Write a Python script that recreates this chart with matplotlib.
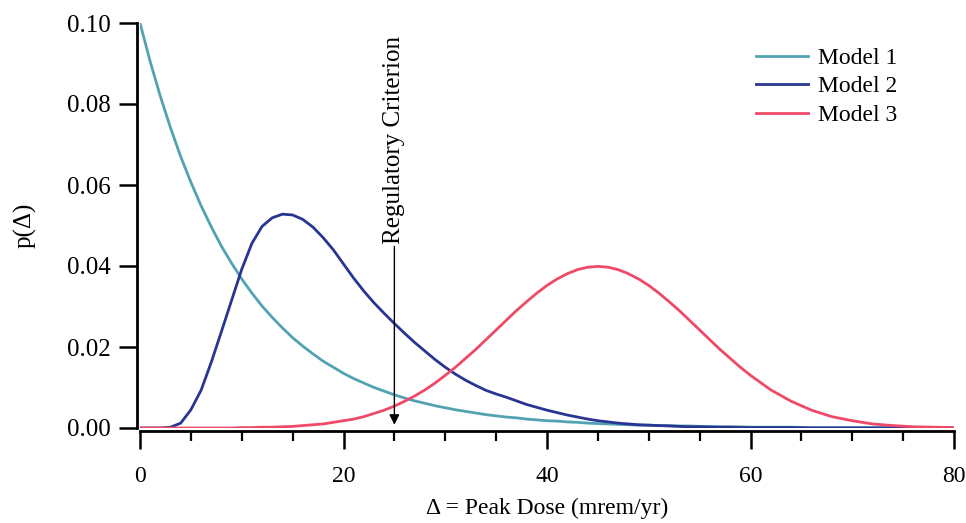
import numpy as np
import matplotlib
matplotlib.use("Agg")
import matplotlib.pyplot as plt
from matplotlib.ticker import MultipleLocator, FormatStrFormatter

plt.rcParams['font.family'] = ['Liberation Serif', 'DejaVu Serif']

# dose values (mrem/yr)
dose = list(range(0, 61)) + [62, 64, 66, 68, 70, 72, 74, 76, 78, 80]

model1 = [0.1000, 0.0905, 0.0819, 0.0741, 0.0670, 0.0607, 0.0549, 0.0497, 0.0449, 0.0407,
          0.0368, 0.0333, 0.0301, 0.0273, 0.0247, 0.0223, 0.0202, 0.0183, 0.0165, 0.0150,
          0.0135, 0.0122, 0.0111, 0.0100, 0.0091, 0.0082, 0.0074, 0.0067, 0.0061, 0.0055,
          0.0050, 0.0045, 0.0041, 0.0037, 0.0033, 0.0030, 0.0027, 0.0025, 0.0022, 0.0020,
          0.0018, 0.0017, 0.0015, 0.0014, 0.0012, 0.0011, 0.0010, 0.0009, 0.0008, 0.0007,
          0.0007, 0.0006, 0.0006, 0.0005, 0.0005, 0.0004, 0.0004, 0.0003, 0.0003, 0.0003,
          0.0002,
          0.0002, 0.0002, 0.0001, 0.0001, 0.0001, 0.0001, 0.0001, 0.0, 0.0, 0.0]

model2 = [0.0, 0.0, 0.0, 0.0002, 0.0012, 0.0045, 0.0093, 0.0162, 0.0238, 0.0315,
          0.0392, 0.0456, 0.0498, 0.0519, 0.0528, 0.0526, 0.0515, 0.0496, 0.0470, 0.0440,
          0.0405, 0.0370, 0.0338, 0.0309, 0.0283, 0.0258, 0.0234, 0.0211, 0.0190, 0.0169,
          0.0150, 0.0133, 0.0118, 0.0105, 0.0093, 0.0084, 0.0076, 0.0067, 0.0058, 0.0051,
          0.0044, 0.0038, 0.0032, 0.0027, 0.0022, 0.0018, 0.0015, 0.0012, 0.0010, 0.0008,
          0.0007, 0.0006, 0.0005, 0.0004, 0.0003, 0.0003, 0.0002, 0.0002, 0.0002, 0.0001,
          0.0001,
          0.0001, 0.0001, 0.0, 0.0, 0.0, 0.0, 0.0, 0.0, 0.0, 0.0]

model3 = [0.0, 0.0, 0.0, 0.0, 0.0, 0.0, 0.0, 0.0, 0.0, 0.0,
          0.0001, 0.0001, 0.0002, 0.0002, 0.0003, 0.0004, 0.0006, 0.0008, 0.0010, 0.0014,
          0.0018, 0.0022, 0.0028, 0.0036, 0.0044, 0.0054, 0.0066, 0.0079, 0.0094, 0.0111,
          0.0130, 0.0150, 0.0172, 0.0194, 0.0218, 0.0242, 0.0266, 0.0290, 0.0312, 0.0333,
          0.0352, 0.0368, 0.0381, 0.0391, 0.0397, 0.0399, 0.0397, 0.0391, 0.0381, 0.0368,
          0.0352, 0.0333, 0.0312, 0.0290, 0.0266, 0.0242, 0.0218, 0.0194, 0.0172, 0.0150,
          0.0130,
          0.0094, 0.0066, 0.0044, 0.0028, 0.0018, 0.0010, 0.0006, 0.0003, 0.0002, 0.0001]

criterion = 25

fig = plt.figure(figsize=(9.66, 5.23), dpi=100)
ax = fig.add_axes([140 / 966, 1 - 428 / 523, 814 / 966, 405 / 523])

ax.plot(dose, model1, color="#52a3b2", lw=2.0, label="Model 1")
ax.plot(dose, model2, color="#283592", lw=2.0, label="Model 2")
ax.plot(dose, model3, color="#ee4a68", lw=2.0, label="Model 3")

ax.annotate("Regulatory Criterion", xy=(criterion, 0.0008), xytext=(criterion, 0.0455),
            rotation=90, ha="center", va="bottom", fontsize=18,
            arrowprops=dict(arrowstyle="-|>", color="black", lw=1.0,
                            shrinkA=0, shrinkB=0, mutation_scale=15))

ax.set_xlim(0, 80)
ax.set_ylim(0, 0.10)
ax.xaxis.set_major_locator(MultipleLocator(20))
ax.xaxis.set_minor_locator(MultipleLocator(5))
ax.yaxis.set_major_locator(MultipleLocator(0.02))
ax.yaxis.set_major_formatter(FormatStrFormatter("%.2f"))

for s in ["top", "right"]:
    ax.spines[s].set_visible(False)
ax.spines["left"].set_position(("outward", 2))
ax.spines["bottom"].set_position(("outward", 2.5))
for s in ["left", "bottom"]:
    ax.spines[s].set_linewidth(2.0)

ax.tick_params(which="major", direction="out", length=13, width=1.8, labelsize=18, pad=6)
ax.tick_params(which="minor", direction="out", length=7, width=1.6)
ax.tick_params(axis="x", which="major", pad=12, labelsize=17)

ax.set_xlabel("\u0394 = Peak Dose (mrem/yr)", fontsize=17, labelpad=8)
ax.set_ylabel("p(\u0394)", fontsize=18, labelpad=22)

ax.legend(loc="upper left", bbox_to_anchor=(0.757, 0.94), frameon=False, fontsize=17,
          handlelength=2.2, handletextpad=0.4, labelspacing=0.3, borderpad=0, borderaxespad=0)

fig.savefig("out.png", dpi=100)
